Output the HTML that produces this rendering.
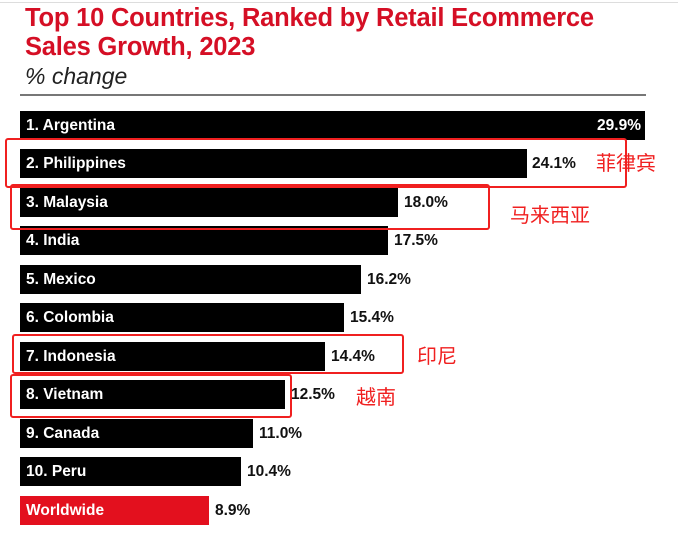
<!DOCTYPE html>
<html><head><meta charset="utf-8"><style>
body{margin:0;width:678px;height:539px;background:#fff;position:relative;overflow:hidden;font-family:"Liberation Sans","Noto Sans CJK SC",sans-serif}
.t{position:absolute;left:25px;color:#d50f25;font-weight:bold;font-size:25.5px;letter-spacing:-0.2px;line-height:29px}
.bar{position:absolute;left:20px;height:29px;background:#000;color:#fff;font-size:15.5px;font-weight:bold;line-height:29px;padding-left:6px;box-sizing:border-box}
.v{position:absolute;font-size:15.5px;font-weight:bold;line-height:29px;color:#111}
.box{position:absolute;border:2px solid #f02020;border-radius:3px}
.cn{position:absolute;color:#f02020;font-size:20px;font-family:"Noto Sans CJK SC",sans-serif}
</style></head><body>
<div style="position:absolute;left:0;top:2px;width:678px;height:1px;background:#ddd"></div>
<div class="t" style="top:4px">Top 10 Countries, Ranked by Retail Ecommerce</div>
<div class="t" style="top:33px">Sales Growth, 2023</div>
<div style="position:absolute;left:25px;top:63px;font-size:23px;font-style:italic;color:#222">% change</div>
<div style="position:absolute;left:20px;top:94px;width:626px;height:2px;background:#777"></div>

<div class="bar" style="top:111px;width:625px">1. Argentina<span style="position:absolute;right:4px">29.9%</span></div>
<div class="bar" style="top:149px;width:507px">2. Philippines</div><div class="v" style="top:149px;left:532px">24.1%</div>
<div class="bar" style="top:188px;width:378px">3. Malaysia</div><div class="v" style="top:188px;left:404px">18.0%</div>
<div class="bar" style="top:226px;width:368px">4. India</div><div class="v" style="top:226px;left:394px">17.5%</div>
<div class="bar" style="top:265px;width:341px">5. Mexico</div><div class="v" style="top:265px;left:367px">16.2%</div>
<div class="bar" style="top:303px;width:324px">6. Colombia</div><div class="v" style="top:303px;left:350px">15.4%</div>
<div class="bar" style="top:342px;width:305px">7. Indonesia</div><div class="v" style="top:342px;left:331px">14.4%</div>
<div class="bar" style="top:380px;width:265px">8. Vietnam</div><div class="v" style="top:380px;left:291px">12.5%</div>
<div class="bar" style="top:419px;width:233px">9. Canada</div><div class="v" style="top:419px;left:259px">11.0%</div>
<div class="bar" style="top:457px;width:221px">10. Peru</div><div class="v" style="top:457px;left:247px">10.4%</div>
<div class="bar" style="top:496px;width:189px;background:#e3101e">Worldwide</div><div class="v" style="top:496px;left:215px">8.9%</div>

<div class="box" style="left:5px;top:138px;width:618px;height:46px"></div>
<div class="box" style="left:10px;top:184px;width:476px;height:42px"></div>
<div class="box" style="left:12px;top:334px;width:388px;height:36px"></div>
<div class="box" style="left:10px;top:374px;width:278px;height:40px"></div>
<div class="cn" style="left:596px;top:147px">菲律宾</div>
<div class="cn" style="left:510px;top:199px">马来西亚</div>
<div class="cn" style="left:417px;top:340px">印尼</div>
<div class="cn" style="left:356px;top:381px">越南</div>
</body></html>
